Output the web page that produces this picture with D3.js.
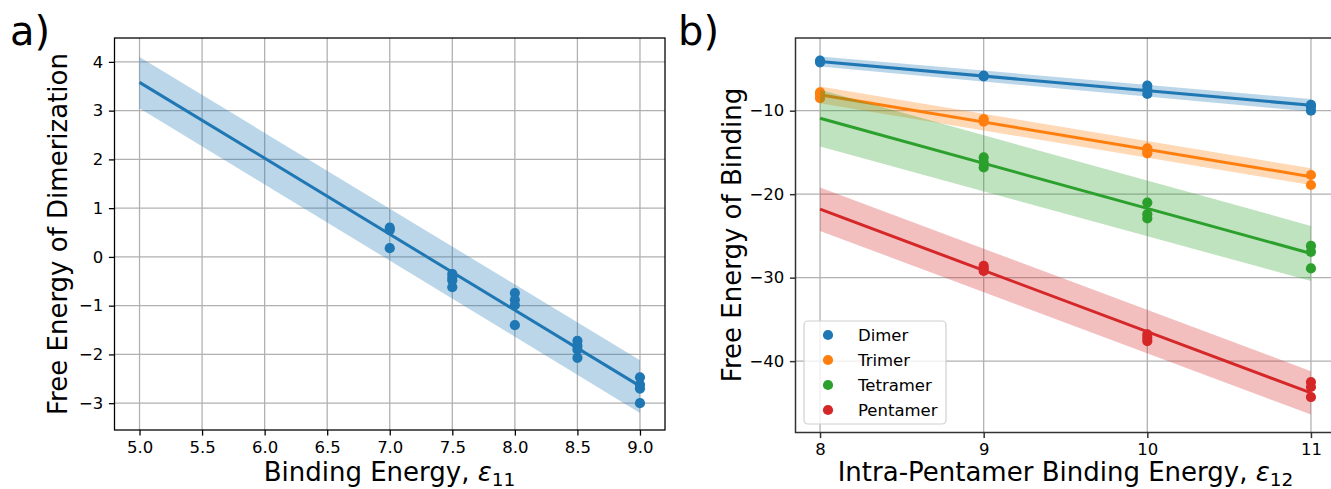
<!DOCTYPE html>
<html><head><meta charset="utf-8">
<script src="https://cdn.jsdelivr.net/npm/d3@7"></script>
<style>
body{margin:0;background:#fff}
svg{display:block}
text{font-family:"DejaVu Sans",sans-serif;fill:#000}
</style>
</head><body>
<svg id="c" width="1331" height="489"></svg>
<script>
// ---------- DATA: panel a ----------
const aPointX = [7,7,7, 7.5,7.5,7.5,7.5, 8,8,8,8, 8.5,8.5,8.5,8.5, 9,9,9,9];
const aPointY = [0.6,0.55,0.18, -0.35,-0.42,-0.48,-0.62, -0.74,-0.88,-0.99,-1.4, -1.72,-1.82,-1.9,-2.07, -2.47,-2.62,-2.7,-3.0];
const aFitX = [5, 9];
const aFitY = [3.58, -2.65];
const aBandLo = [3.05, -3.2];
const aBandHi = [4.1, -2.12];
const aXTicks = [5.0,5.5,6.0,6.5,7.0,7.5,8.0,8.5,9.0];
const aYTicks = [-3,-2,-1,0,1,2,3,4];

// ---------- DATA: panel b ----------
const seriesNames = ["Dimer","Trimer","Tetramer","Pentamer"];
const seriesColors = ["#1f77b4","#ff7f0e","#2ca02c","#d62728"];
const dimerX = [8,8,9,9,10,10,10,11,11,11];
const dimerY = [-4.0,-4.2,-5.8,-5.9,-7.0,-7.5,-8.0,-9.3,-9.5,-10.0];
const trimerX = [8,8,8,9,9,10,10,10,11,11];
const trimerY = [-7.8,-8.1,-8.5,-11.0,-11.3,-14.5,-14.8,-15.1,-17.7,-18.9];
const tetramerX = [9,9,9,10,10,10,11,11,11];
const tetramerY = [-15.6,-16.2,-16.8,-21.0,-22.4,-22.9,-26.2,-26.9,-28.9];
const pentamerX = [9,9,9,10,10,10,11,11,11];
const pentamerY = [-28.6,-28.9,-29.2,-36.8,-37.2,-37.6,-42.5,-43.1,-44.3];
const bFitX = [8, 11];
const dimerFit = [-4.1, -9.35];
const trimerFit = [-8.1, -17.9];
const tetramerFit = [-10.9, -27.1];
const pentamerFit = [-21.8, -43.8];
const dimerBandLo = [-4.7, -10.1],  dimerBandHi = [-3.5, -8.6];
const trimerBandLo = [-9.1, -18.9], trimerBandHi = [-7.1, -16.9];
const tetramerBandLo = [-14.3, -30.4], tetramerBandHi = [-7.5, -23.8];
const pentamerBandLo = [-24.4, -46.4], pentamerBandHi = [-19.2, -41.2];
const bXTicks = [8,9,10,11];
const bYTicks = [-40,-30,-20,-10];

const bSeries = [
  {x:dimerX, y:dimerY, fit:dimerFit, lo:dimerBandLo, hi:dimerBandHi},
  {x:trimerX, y:trimerY, fit:trimerFit, lo:trimerBandLo, hi:trimerBandHi},
  {x:tetramerX, y:tetramerY, fit:tetramerFit, lo:tetramerBandLo, hi:tetramerBandHi},
  {x:pentamerX, y:pentamerY, fit:pentamerFit, lo:pentamerBandLo, hi:pentamerBandHi}
];

// ---------- DRAW ----------
const svg = d3.select("#c");
const TICK = 5.6, PAD = 5.6, GRID = "#b0b0b0";
const fmtMinus = s => String(s).replace("-", "\u2212");

function panel(opts){
  const {L,R,T,B,xDom,yDom,xTicks,yTicks,xFmt,yFmt,spine,spineW,id} = opts;
  const x = d3.scaleLinear().domain(xDom).range([L,R]);
  const y = d3.scaleLinear().domain(yDom).range([B,T]);
  svg.append("clipPath").attr("id",id).append("rect")
    .attr("x",L).attr("y",T).attr("width",R-L).attr("height",B-T);
  const g = svg.append("g");
  const grid = g.append("g");
  xTicks.forEach(t=>grid.append("line").attr("x1",x(t)).attr("x2",x(t)).attr("y1",T).attr("y2",B)
    .attr("stroke",GRID).attr("stroke-width",1.28));
  yTicks.forEach(t=>grid.append("line").attr("x1",L).attr("x2",R).attr("y1",y(t)).attr("y2",y(t))
    .attr("stroke",GRID).attr("stroke-width",1.28));
  const plot = g.append("g").attr("clip-path",`url(#${id})`);
  const ax = g.append("g").attr("transform",`translate(0,${B})`)
    .call(d3.axisBottom(x).tickValues(xTicks).tickFormat(xFmt).tickSize(TICK).tickPadding(PAD));
  const ay = g.append("g").attr("transform",`translate(${L},0)`)
    .call(d3.axisLeft(y).tickValues(yTicks).tickFormat(yFmt).tickSize(TICK).tickPadding(PAD));
  [ax,ay].forEach(a=>{
    a.select(".domain").remove();
    a.selectAll(".tick line").attr("stroke",spine).attr("stroke-width",spineW);
    a.selectAll(".tick text").attr("font-size",16.5).attr("font-family","DejaVu Sans").attr("fill","#000");
  });
  g.append("rect").attr("x",L).attr("y",T).attr("width",R-L).attr("height",B-T)
    .attr("fill","none").attr("stroke",spine).attr("stroke-width",spineW);
  return {x,y,plot,g};
}

// Panel a
const pa = panel({L:114.5,R:665,T:38,B:430,xDom:[4.8,9.2],yDom:[-3.55,4.49],
  xTicks:aXTicks,yTicks:aYTicks,xFmt:d=>fmtMinus(d3.format(".1f")(d)),yFmt:d=>fmtMinus(d),
  spine:"#000",spineW:1.28,id:"clipA"});
{
  const {x,y,plot} = pa;
  const bandPts = aFitX.map((v,i)=>({x:v,lo:aBandLo[i],hi:aBandHi[i]}));
  plot.append("path").datum(bandPts)
    .attr("d",d3.area().x(d=>x(d.x)).y0(d=>y(d.lo)).y1(d=>y(d.hi)))
    .attr("fill","#1f77b4").attr("fill-opacity",0.3);
  plot.selectAll("circle.p").data(aPointX.map((v,i)=>[v,aPointY[i]])).join("circle")
    .attr("cx",d=>x(d[0])).attr("cy",d=>y(d[1])).attr("r",5.1).attr("fill","#1f77b4");
  plot.append("path").datum(aFitX.map((v,i)=>[v,aFitY[i]]))
    .attr("d",d3.line().x(d=>x(d[0])).y(d=>y(d[1])))
    .attr("stroke","#1f77b4").attr("stroke-width",3).attr("fill","none");
}

// Panel b
const pb = panel({L:795.5,R:1335.5,T:38,B:432.5,xDom:[7.85,11.15],yDom:[-48.55,-1.29],
  xTicks:bXTicks,yTicks:bYTicks,xFmt:d=>fmtMinus(d),yFmt:d=>fmtMinus(d),
  spine:"#333",spineW:1.5,id:"clipB"});
{
  const {x,y,plot} = pb;
  bSeries.forEach((s,k)=>{
    const c = seriesColors[k];
    plot.append("g").selectAll("circle").data(s.x.map((v,i)=>[v,s.y[i]])).join("circle")
      .attr("cx",d=>x(d[0])).attr("cy",d=>y(d[1])).attr("r",5.1).attr("fill",c);
    const bandPts = bFitX.map((v,i)=>({x:v,lo:s.lo[i],hi:s.hi[i]}));
    plot.append("path").datum(bandPts)
      .attr("d",d3.area().x(d=>x(d.x)).y0(d=>y(d.lo)).y1(d=>y(d.hi)))
      .attr("fill",c).attr("fill-opacity",0.3);
    plot.append("path").datum(bFitX.map((v,i)=>[v,s.fit[i]]))
      .attr("d",d3.line().x(d=>x(d[0])).y(d=>y(d[1])))
      .attr("stroke",c).attr("stroke-width",3).attr("fill","none");
  });
  const lg = svg.append("g");
  lg.append("rect").attr("x",804).attr("y",321).attr("width",142).attr("height",103)
    .attr("rx",4).attr("fill","#fff").attr("fill-opacity",0.8).attr("stroke","#d0d0d0").attr("stroke-width",1.2);
  seriesNames.forEach((n,i)=>{
    const cy = 335 + i*25;
    lg.append("circle").attr("cx",828).attr("cy",cy).attr("r",5.1).attr("fill",seriesColors[i]);
    lg.append("text").attr("x",858).attr("y",cy+6).attr("font-size",16.5).text(n);
  });
}

// Labels
svg.append("text").attr("x",10).attr("y",45).attr("font-size",40).text("a)");
svg.append("text").attr("x",678).attr("y",45).attr("font-size",40).text("b)");

svg.append("text").attr("transform","translate(67,234) rotate(-90)").attr("text-anchor","middle")
  .attr("font-size",26).text("Free Energy of Dimerization");
svg.append("text").attr("transform","translate(741,235) rotate(-90)").attr("text-anchor","middle")
  .attr("font-size",26).text("Free Energy of Binding");

function xlabel(cx, main, sub){
  const t = svg.append("text").attr("x",cx).attr("y",481).attr("text-anchor","middle").attr("font-size",26);
  t.append("tspan").text(main);
  t.append("tspan").attr("font-style","italic").text("\u03b5");
  t.append("tspan").attr("font-size",18.5).attr("dy",5).text(sub);
}
xlabel(389.5, "Binding Energy, ", "11");
xlabel(1065.5, "Intra-Pentamer Binding Energy, ", "12");
</script>
</body></html>
